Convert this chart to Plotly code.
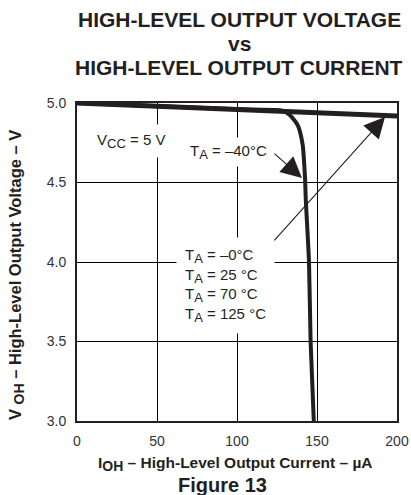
import plotly.graph_objects as go

# Output current (uA) and high-level output voltage (V)
i_top = [0, 40, 80, 120, 160, 200]
v_top = [5.0, 4.985, 4.968, 4.952, 4.936, 4.918]

i_m40 = [0, 60, 110, 128, 133, 138, 141, 142.5, 143, 145, 146, 148]
v_m40 = [5.0, 4.977, 4.958, 4.952, 4.925, 4.86, 4.74, 4.53, 4.39, 4.0, 3.5, 3.0]

x_ticks = [0, 50, 100, 150, 200]
y_ticks = [3.0, 3.5, 4.0, 4.5, 5.0]

INK = "#231f20"
FONT = "Liberation Sans, Arial, sans-serif"


def sub(txt, px):
    """Subscript drawn at an explicit pixel size."""
    return f"<sub><span style='font-size:{px}px'>{txt}</span></sub>"


fig = go.Figure()
fig.add_trace(go.Scatter(x=i_m40, y=v_m40, mode="lines",
                         line=dict(color=INK, width=4, shape="spline", smoothing=0.6),
                         hoverinfo="skip"))
fig.add_trace(go.Scatter(x=i_top, y=v_top, mode="lines",
                         line=dict(color=INK, width=5), hoverinfo="skip"))

axis_common = dict(showgrid=True, gridcolor="#000000", gridwidth=1,
                   showline=True, linecolor=INK, linewidth=2, mirror=True,
                   zeroline=False, ticks="", automargin=False,
                   tickfont=dict(family=FONT, size=14, color="#333333"))

fig.update_xaxes(range=[0, 200], tickvals=x_ticks, ticktext=[str(v) for v in x_ticks],
                 ticklabelstandoff=6, **axis_common)
fig.update_yaxes(range=[3, 5], tickvals=y_ticks, ticktext=[f"{v:.1f}" for v in y_ticks],
                 ticklabelstandoff=6, **axis_common)

ann = []
# Title lines
for txt, yy in [("HIGH-LEVEL OUTPUT VOLTAGE", 20), ("vs", 43), ("HIGH-LEVEL OUTPUT CURRENT", 67)]:
    ann.append(dict(text=f"<b>{txt}</b>", xref="paper", yref="paper",
                    x=(239 - 77) / 320, y=1 + (103 - yy) / 318, xanchor="center", yanchor="middle",
                    showarrow=False, font=dict(family=FONT, size=21, color=INK)))

# Axis titles
ann.append(dict(text=f"<b>I{sub('OH', 14)} – High-Level Output Current – µA</b>",
                xref="paper", yref="paper", x=(235 - 77) / 320, y=-(464 - 421) / 318,
                xanchor="center", yanchor="middle", showarrow=False,
                font=dict(family=FONT, size=15.5, color=INK)))
ann.append(dict(text="<b>Figure 13</b>", xref="paper", yref="paper",
                x=(222 - 77) / 320, y=-(485 - 421) / 318,
                xanchor="center", yanchor="middle", showarrow=False,
                font=dict(family=FONT, size=20, color=INK)))
ann.append(dict(text=f"<b>V {sub('OH', 14)} – High-Level Output Voltage – V</b>",
                xref="paper", yref="paper", x=-(77 - 16) / 320, y=(421 - 275) / 318,
                xanchor="center", yanchor="middle", textangle=-90, showarrow=False,
                font=dict(family=FONT, size=16.5, color=INK)))

# Curve labels
ann.append(dict(text=f"V{sub('CC', 13)} = 5 V", x=34, y=4.76, showarrow=False,
                bgcolor="white", borderpad=6, font=dict(family=FONT, size=15, color=INK)))
ann.append(dict(text=f"T{sub('A', 13)} = –40°C", x=94.5, y=4.69, showarrow=False,
                bgcolor="white", borderpad=4, font=dict(family=FONT, size=15, color=INK)))
ann.append(dict(text=f"T{sub('A', 13)} = –0°C<br>T{sub('A', 13)} = 25 °C<br>"
                     f"T{sub('A', 13)} = 70 °C<br>T{sub('A', 13)} = 125 °C",
                x=92.5, y=3.85, showarrow=False, align="left",
                bgcolor="white", borderpad=8, font=dict(family=FONT, size=15, color=INK)))

# Pointer arrows
ann.append(dict(text="", x=140.6, y=4.528, ax=122.5, ay=4.69, axref="x", ayref="y",
                showarrow=True, arrowhead=2, arrowsize=3.8, arrowwidth=1.1, arrowcolor=INK))
ann.append(dict(text="", x=192.5, y=4.912, ax=122.5, ay=4.126, axref="x", ayref="y",
                showarrow=True, arrowhead=2, arrowsize=3.8, arrowwidth=1.1, arrowcolor=INK))

fig.update_layout(width=411, height=495, margin=dict(l=77, r=14, t=103, b=74),
                  paper_bgcolor="white", plot_bgcolor="white", showlegend=False,
                  annotations=ann, font=dict(family=FONT, color=INK))

fig.write_html("out.html")
